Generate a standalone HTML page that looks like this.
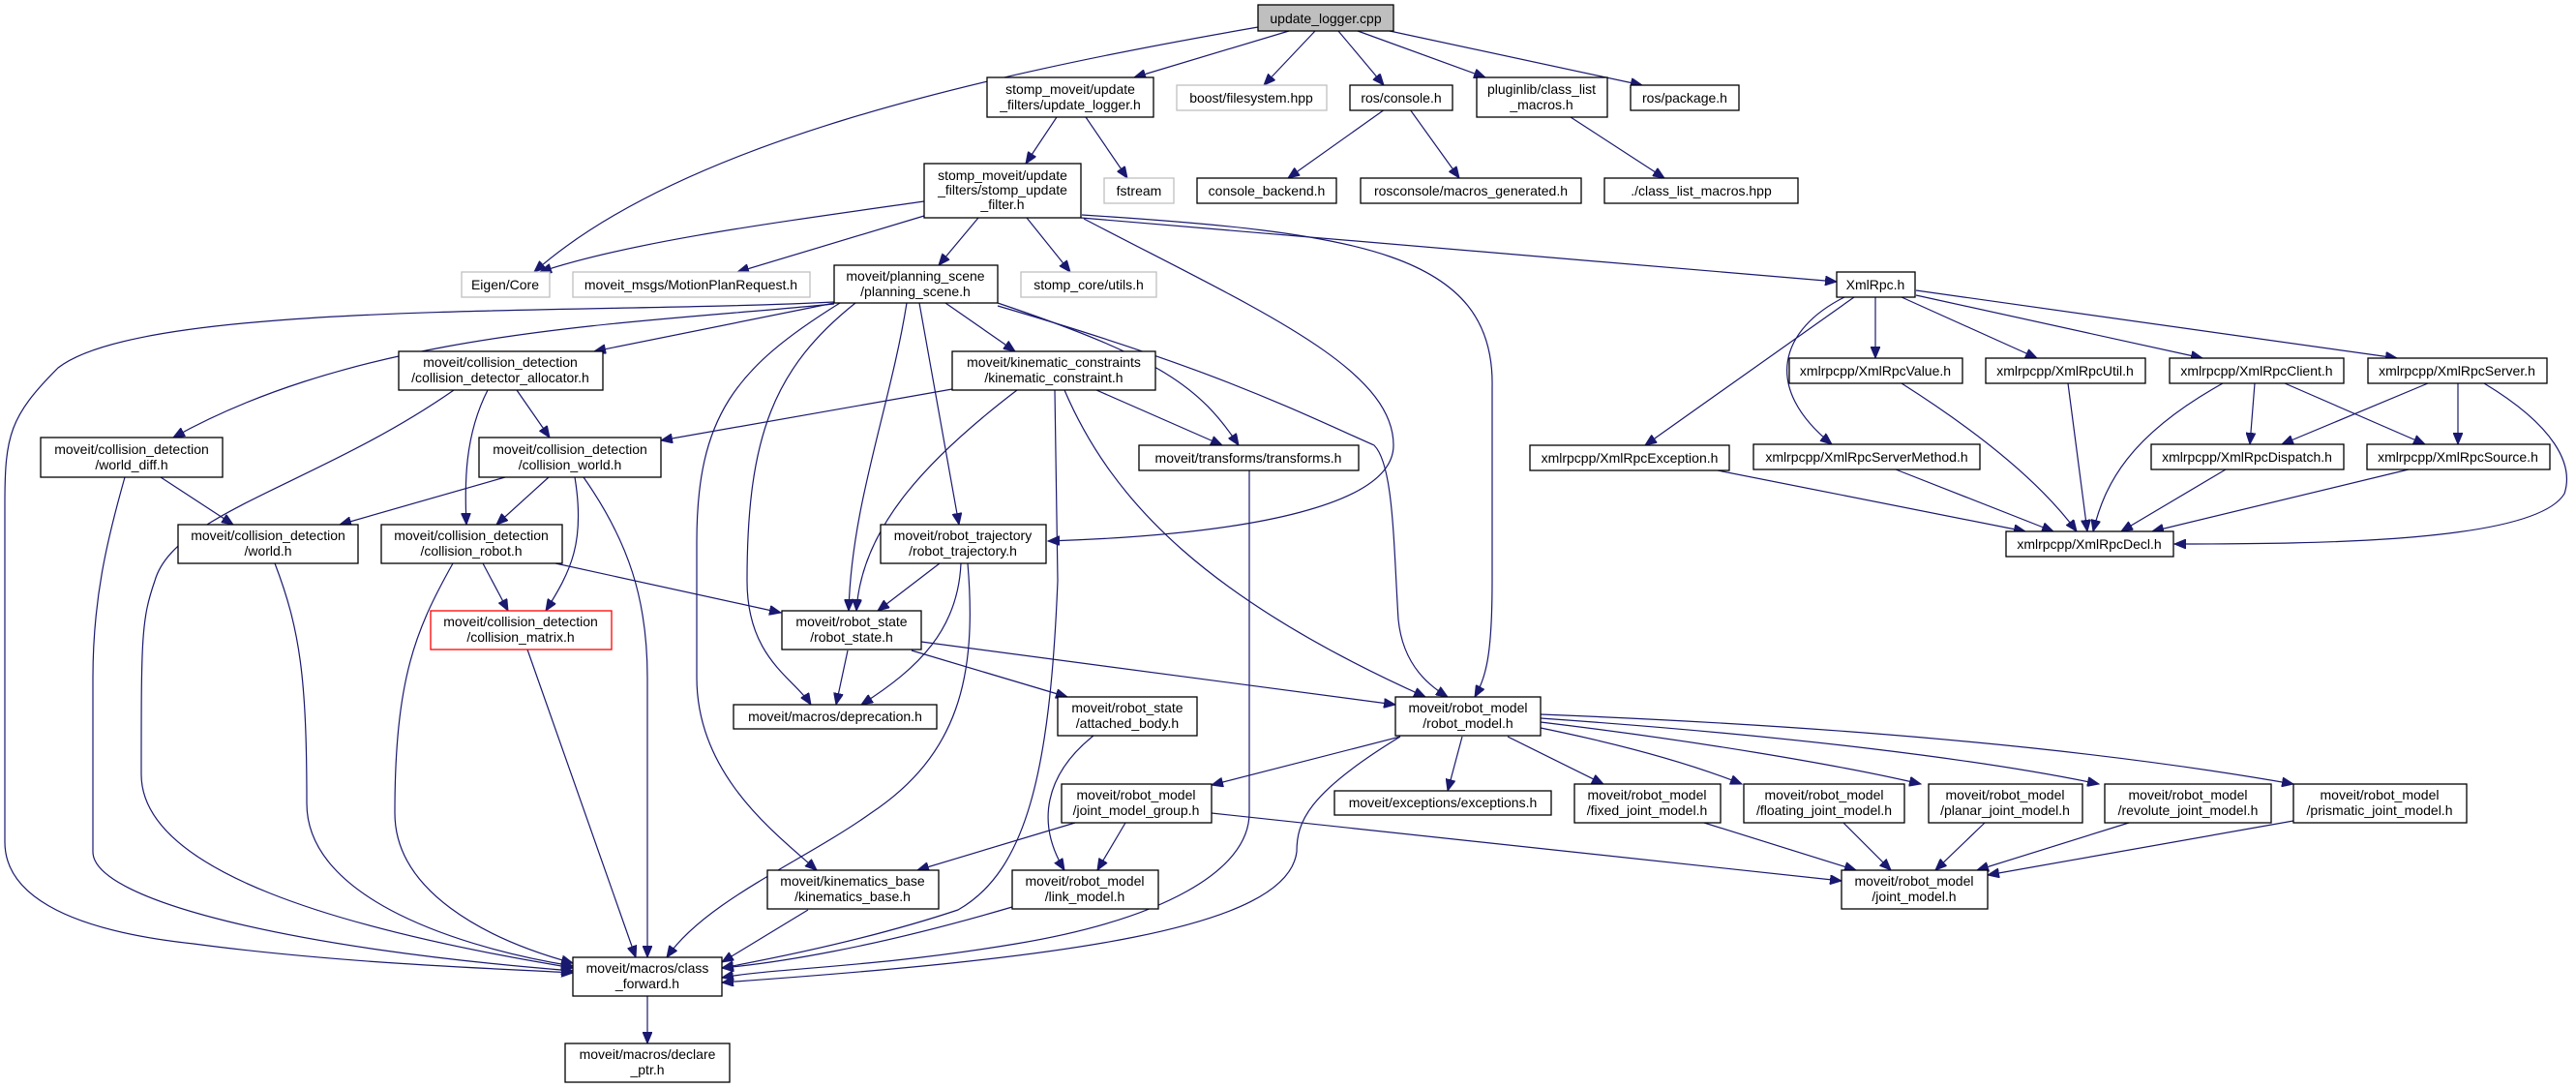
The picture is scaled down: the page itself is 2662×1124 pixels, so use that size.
<!DOCTYPE html>
<html><head><meta charset="utf-8"><style>
html,body{margin:0;padding:0;background:#fff;}
svg{display:block;}
text{font-family:"Liberation Sans",sans-serif;font-size:14px;fill:#000;text-anchor:middle;}
.n{fill:#fff;stroke:#000;stroke-width:1.3;}
.g{fill:#fff;stroke:#bfbfbf;stroke-width:1.3;}
.r{fill:#fff;stroke:#ff0000;stroke-width:1.3;}
.e{fill:none;stroke:#191970;stroke-width:1.2;marker-end:url(#a);}
</style></head><body>
<svg width="2662" height="1124" viewBox="0 0 2662 1124" xmlns="http://www.w3.org/2000/svg">
<defs><marker id="a" markerWidth="13" markerHeight="10" refX="12" refY="5" orient="auto" markerUnits="userSpaceOnUse"><path d="M0,0 L12,5 L0,10 z" fill="#191970" stroke="#191970"/></marker></defs>
<g>
<path class="e" d="M1300,28 C1000,80 700,150 552,281"/>
<path class="e" d="M1332,32 L1172,80"/>
<path class="e" d="M1359,32 L1306,88"/>
<path class="e" d="M1383,32 L1430,88"/>
<path class="e" d="M1403,32 L1535,80"/>
<path class="e" d="M1436,32 L1697,88"/>
<path class="e" d="M1092,121 L1060,169"/>
<path class="e" d="M1122,121 L1165,184"/>
<path class="e" d="M1431,113 L1331,184"/>
<path class="e" d="M1457,113 L1508,184"/>
<path class="e" d="M1623,121 L1720,184"/>
<path class="e" d="M955,208 C800,230 650,250 558,281"/>
<path class="e" d="M955,223 L762,281"/>
<path class="e" d="M1011,225 L970,274"/>
<path class="e" d="M1061,225 L1106,281"/>
<path class="e" d="M1117,225 L1898,291"/>
<path class="e" d="M1118,222 C1400,240 1545,260 1542,400 L1542,600 C1542,680 1535,700 1524,720"/>
<path class="e" d="M1120,226 C1300,320 1440,380 1440,460 C1440,520 1300,552 1083,559"/>
<path class="e" d="M862,314 C650,335 380,340 179,452"/>
<path class="e" d="M862,313 L614,363"/>
<path class="e" d="M862,312 C600,325 150,310 60,380 C10,430 5,450 5,520 L5,870 C5,920 60,960 200,975 C350,995 500,1000 592,1005"/>
<path class="e" d="M977,313 L1049,363"/>
<path class="e" d="M1031,313 C1200,370 1240,400 1280,460"/>
<path class="e" d="M1031,316 C1250,380 1330,420 1420,460 C1440,480 1440,560 1445,640 C1450,690 1480,710 1496,720"/>
<path class="e" d="M937,313 C920,420 880,520 877,631"/>
<path class="e" d="M950,313 L991,542"/>
<path class="e" d="M884,313 C800,380 772,450 772,600 C772,680 820,700 838,728"/>
<path class="e" d="M868,313 C760,380 720,430 720,560 L720,700 C720,800 800,860 844,899"/>
<path class="e" d="M469,403 C330,500 180,530 160,600 C146,640 146,660 146,800 C146,900 350,960 592,1000"/>
<path class="e" d="M504,403 C480,450 480,500 482,542"/>
<path class="e" d="M534,403 L568,452"/>
<path class="e" d="M166,493 L241,542"/>
<path class="e" d="M129,493 C110,560 96,620 96,700 L96,880 C96,930 300,980 592,1003"/>
<path class="e" d="M522,493 L351,542"/>
<path class="e" d="M567,493 L513,542"/>
<path class="e" d="M594,493 C605,560 590,590 564,631"/>
<path class="e" d="M603,493 C650,560 669,620 669,700 L669,989"/>
<path class="e" d="M984,402 L683,455"/>
<path class="e" d="M1051,403 C950,480 890,550 885,631"/>
<path class="e" d="M1090,403 L1093,600 C1085,800 1060,900 990,940 C900,970 800,990 746,1000"/>
<path class="e" d="M1133,403 L1263,460"/>
<path class="e" d="M1100,403 C1150,520 1250,620 1473,720"/>
<path class="e" d="M1291,486 L1291,840 C1291,900 1200,950 1050,975 C900,1000 800,1000 746,1010"/>
<path class="e" d="M284,582 C310,650 317,700 317,830 C317,930 480,980 592,998"/>
<path class="e" d="M468,582 C430,650 408,700 408,840 C408,920 500,970 592,995"/>
<path class="e" d="M499,582 L525,631"/>
<path class="e" d="M574,582 L807,633"/>
<path class="e" d="M545,671 L657,989"/>
<path class="e" d="M971,582 L907,631"/>
<path class="e" d="M993,582 C990,650 950,690 890,728"/>
<path class="e" d="M1000,582 C1010,700 990,780 900,840 C830,890 730,930 689,989"/>
<path class="e" d="M876,672 L864,728"/>
<path class="e" d="M942,672 L1103,720"/>
<path class="e" d="M952,663 L1442,728"/>
<path class="e" d="M1130,760 C1080,800 1070,850 1100,899"/>
<path class="e" d="M1447,761 L1252,811"/>
<path class="e" d="M1511,761 L1496,817"/>
<path class="e" d="M1558,761 L1657,810"/>
<path class="e" d="M1592,752 C1680,770 1750,790 1800,810"/>
<path class="e" d="M1592,746 C1750,765 1900,790 1985,810"/>
<path class="e" d="M1592,742 C1850,760 2050,785 2169,810"/>
<path class="e" d="M1592,738 C1950,752 2200,780 2370,810"/>
<path class="e" d="M1447,761 C1350,820 1340,850 1340,880 C1330,960 1100,990 746,1015"/>
<path class="e" d="M1252,840 L1903,910"/>
<path class="e" d="M1111,850 L948,899"/>
<path class="e" d="M1163,850 L1134,899"/>
<path class="e" d="M835,940 L746,994"/>
<path class="e" d="M1046,937 C900,980 800,995 746,1000"/>
<path class="e" d="M1761,850 L1918,899"/>
<path class="e" d="M1905,850 L1954,899"/>
<path class="e" d="M2051,850 L2000,899"/>
<path class="e" d="M2200,850 L2043,899"/>
<path class="e" d="M2370,848 L2054,904"/>
<path class="e" d="M669,1029 L669,1078"/>
<path class="e" d="M1938,307 L1938,370"/>
<path class="e" d="M1965,307 L2105,370"/>
<path class="e" d="M1980,305 L2276,370"/>
<path class="e" d="M1980,300 L2477,370"/>
<path class="e" d="M1916,307 L1700,460"/>
<path class="e" d="M1906,307 C1840,340 1820,400 1893,459"/>
<path class="e" d="M1965,396 C2050,450 2110,500 2146,549"/>
<path class="e" d="M2137,396 L2157,549"/>
<path class="e" d="M2297,396 C2200,450 2175,500 2163,549"/>
<path class="e" d="M2330,396 L2325,459"/>
<path class="e" d="M2361,396 L2506,459"/>
<path class="e" d="M2509,396 L2358,459"/>
<path class="e" d="M2540,396 L2540,459"/>
<path class="e" d="M2567,396 C2640,440 2660,480 2650,510 C2620,560 2400,562 2247,562"/>
<path class="e" d="M2300,485 L2192,549"/>
<path class="e" d="M2489,485 L2224,549"/>
<path class="e" d="M1959,485 L2122,549"/>
<path class="e" d="M1770,485 L2093,549"/>
</g>
<g>
<rect x="1300" y="5" width="140" height="27" fill="#bfbfbf" stroke="#000" stroke-width="1.3"/><text x="1370" y="24">update_logger.cpp</text>
<rect class="n" x="1020" y="80" width="172" height="41"/><text x="1106" y="97">stomp_moveit/update</text><text x="1106" y="113">_filters/update_logger.h</text>
<rect class="g" x="1216" y="88" width="155" height="26"/><text x="1293" y="106">boost/filesystem.hpp</text>
<rect class="n" x="1395" y="88" width="106" height="26"/><text x="1448" y="106">ros/console.h</text>
<rect class="n" x="1526" y="80" width="135" height="41"/><text x="1593" y="97">pluginlib/class_list</text><text x="1593" y="113">_macros.h</text>
<rect class="n" x="1685" y="88" width="112" height="26"/><text x="1741" y="106">ros/package.h</text>
<rect class="n" x="955" y="169" width="162" height="56"/><text x="1036" y="186">stomp_moveit/update</text><text x="1036" y="201">_filters/stomp_update</text><text x="1036" y="216">_filter.h</text>
<rect class="g" x="1141" y="184" width="72" height="26"/><text x="1177" y="202">fstream</text>
<rect class="n" x="1237" y="184" width="144" height="26"/><text x="1309" y="202">console_backend.h</text>
<rect class="n" x="1406" y="184" width="228" height="26"/><text x="1520" y="202">rosconsole/macros_generated.h</text>
<rect class="n" x="1658" y="184" width="200" height="26"/><text x="1758" y="202">./class_list_macros.hpp</text>
<rect class="g" x="477" y="281" width="91" height="26"/><text x="522" y="299">Eigen/Core</text>
<rect class="g" x="592" y="281" width="245" height="26"/><text x="714" y="299">moveit_msgs/MotionPlanRequest.h</text>
<rect class="n" x="862" y="274" width="169" height="39"/><text x="946" y="290">moveit/planning_scene</text><text x="946" y="306">/planning_scene.h</text>
<rect class="g" x="1055" y="281" width="140" height="26"/><text x="1125" y="299">stomp_core/utils.h</text>
<rect class="n" x="1898" y="281" width="81" height="26"/><text x="1938" y="299">XmlRpc.h</text>
<rect class="n" x="412" y="363" width="211" height="40"/><text x="517" y="379">moveit/collision_detection</text><text x="517" y="395">/collision_detector_allocator.h</text>
<rect class="n" x="984" y="363" width="210" height="40"/><text x="1089" y="379">moveit/kinematic_constraints</text><text x="1089" y="395">/kinematic_constraint.h</text>
<rect class="n" x="42" y="452" width="188" height="41"/><text x="136" y="469">moveit/collision_detection</text><text x="136" y="485">/world_diff.h</text>
<rect class="n" x="495" y="452" width="188" height="41"/><text x="589" y="469">moveit/collision_detection</text><text x="589" y="485">/collision_world.h</text>
<rect class="n" x="1177" y="460" width="227" height="26"/><text x="1290" y="478">moveit/transforms/transforms.h</text>
<rect class="n" x="1581" y="460" width="206" height="26"/><text x="1684" y="478">xmlrpcpp/XmlRpcException.h</text>
<rect class="n" x="1849" y="370" width="179" height="26"/><text x="1938" y="388">xmlrpcpp/XmlRpcValue.h</text>
<rect class="n" x="2052" y="370" width="165" height="26"/><text x="2134" y="388">xmlrpcpp/XmlRpcUtil.h</text>
<rect class="n" x="2242" y="370" width="180" height="26"/><text x="2332" y="388">xmlrpcpp/XmlRpcClient.h</text>
<rect class="n" x="2447" y="370" width="185" height="26"/><text x="2539" y="388">xmlrpcpp/XmlRpcServer.h</text>
<rect class="n" x="1812" y="459" width="234" height="26"/><text x="1929" y="477">xmlrpcpp/XmlRpcServerMethod.h</text>
<rect class="n" x="2223" y="459" width="199" height="26"/><text x="2322" y="477">xmlrpcpp/XmlRpcDispatch.h</text>
<rect class="n" x="2446" y="459" width="189" height="26"/><text x="2540" y="477">xmlrpcpp/XmlRpcSource.h</text>
<rect class="n" x="2073" y="549" width="173" height="26"/><text x="2159" y="567">xmlrpcpp/XmlRpcDecl.h</text>
<rect class="n" x="184" y="542" width="186" height="40"/><text x="277" y="558">moveit/collision_detection</text><text x="277" y="574">/world.h</text>
<rect class="n" x="394" y="542" width="187" height="40"/><text x="487" y="558">moveit/collision_detection</text><text x="487" y="574">/collision_robot.h</text>
<rect class="n" x="910" y="542" width="171" height="40"/><text x="995" y="558">moveit/robot_trajectory</text><text x="995" y="574">/robot_trajectory.h</text>
<rect class="r" x="445" y="631" width="187" height="40"/><text x="538" y="647">moveit/collision_detection</text><text x="538" y="663">/collision_matrix.h</text>
<rect class="n" x="808" y="631" width="144" height="40"/><text x="880" y="647">moveit/robot_state</text><text x="880" y="663">/robot_state.h</text>
<rect class="n" x="758" y="728" width="210" height="25"/><text x="863" y="745">moveit/macros/deprecation.h</text>
<rect class="n" x="1093" y="720" width="144" height="40"/><text x="1165" y="736">moveit/robot_state</text><text x="1165" y="752">/attached_body.h</text>
<rect class="n" x="1442" y="720" width="150" height="40"/><text x="1517" y="736">moveit/robot_model</text><text x="1517" y="752">/robot_model.h</text>
<rect class="n" x="1097" y="810" width="155" height="40"/><text x="1174" y="826">moveit/robot_model</text><text x="1174" y="842">/joint_model_group.h</text>
<rect class="n" x="1379" y="817" width="224" height="25"/><text x="1491" y="834">moveit/exceptions/exceptions.h</text>
<rect class="n" x="1627" y="810" width="151" height="40"/><text x="1702" y="826">moveit/robot_model</text><text x="1702" y="842">/fixed_joint_model.h</text>
<rect class="n" x="1802" y="810" width="166" height="40"/><text x="1885" y="826">moveit/robot_model</text><text x="1885" y="842">/floating_joint_model.h</text>
<rect class="n" x="1993" y="810" width="159" height="40"/><text x="2072" y="826">moveit/robot_model</text><text x="2072" y="842">/planar_joint_model.h</text>
<rect class="n" x="2175" y="810" width="172" height="40"/><text x="2261" y="826">moveit/robot_model</text><text x="2261" y="842">/revolute_joint_model.h</text>
<rect class="n" x="2370" y="810" width="179" height="40"/><text x="2459" y="826">moveit/robot_model</text><text x="2459" y="842">/prismatic_joint_model.h</text>
<rect class="n" x="793" y="899" width="177" height="40"/><text x="881" y="915">moveit/kinematics_base</text><text x="881" y="931">/kinematics_base.h</text>
<rect class="n" x="1046" y="899" width="151" height="40"/><text x="1121" y="915">moveit/robot_model</text><text x="1121" y="931">/link_model.h</text>
<rect class="n" x="1903" y="899" width="151" height="40"/><text x="1978" y="915">moveit/robot_model</text><text x="1978" y="931">/joint_model.h</text>
<rect class="n" x="592" y="989" width="154" height="40"/><text x="669" y="1005">moveit/macros/class</text><text x="669" y="1021">_forward.h</text>
<rect class="n" x="584" y="1078" width="170" height="40"/><text x="669" y="1094">moveit/macros/declare</text><text x="669" y="1110">_ptr.h</text>
</g>
</svg>
</body></html>
